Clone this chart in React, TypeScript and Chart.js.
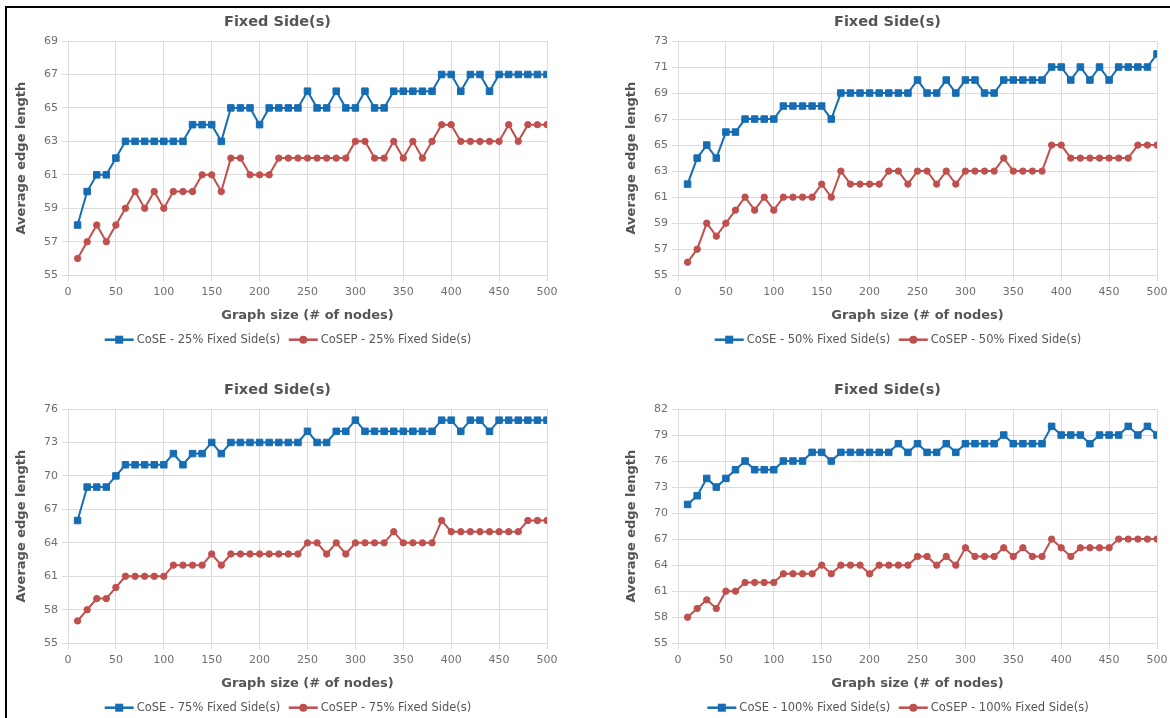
import React, { useEffect, useRef } from "react";
import { Chart, registerables } from "chart.js";

Chart.register(...registerables);

// Graph sizes on the x axis
const nodeCounts = [
  10, 20, 30, 40, 50, 60, 70, 80, 90, 100,
  110, 120, 130, 140, 150, 160, 170, 180, 190, 200,
  210, 220, 230, 240, 250, 260, 270, 280, 290, 300,
  310, 320, 330, 340, 350, 360, 370, 380, 390, 400,
  410, 420, 430, 440, 450, 460, 470, 480, 490, 500,
];

// 25% fixed sides
const cose25 = [
  58, 60, 61, 61, 62, 63, 63, 63, 63, 63,
  63, 63, 64, 64, 64, 63, 65, 65, 65, 64,
  65, 65, 65, 65, 66, 65, 65, 66, 65, 65,
  66, 65, 65, 66, 66, 66, 66, 66, 67, 67,
  66, 67, 67, 66, 67, 67, 67, 67, 67, 67,
];
const cosep25 = [
  56, 57, 58, 57, 58, 59, 60, 59, 60, 59,
  60, 60, 60, 61, 61, 60, 62, 62, 61, 61,
  61, 62, 62, 62, 62, 62, 62, 62, 62, 63,
  63, 62, 62, 63, 62, 63, 62, 63, 64, 64,
  63, 63, 63, 63, 63, 64, 63, 64, 64, 64,
];

// 50% fixed sides
const cose50 = [
  62, 64, 65, 64, 66, 66, 67, 67, 67, 67,
  68, 68, 68, 68, 68, 67, 69, 69, 69, 69,
  69, 69, 69, 69, 70, 69, 69, 70, 69, 70,
  70, 69, 69, 70, 70, 70, 70, 70, 71, 71,
  70, 71, 70, 71, 70, 71, 71, 71, 71, 72,
];
const cosep50 = [
  56, 57, 59, 58, 59, 60, 61, 60, 61, 60,
  61, 61, 61, 61, 62, 61, 63, 62, 62, 62,
  62, 63, 63, 62, 63, 63, 62, 63, 62, 63,
  63, 63, 63, 64, 63, 63, 63, 63, 65, 65,
  64, 64, 64, 64, 64, 64, 64, 65, 65, 65,
];

// 75% fixed sides
const cose75 = [
  66, 69, 69, 69, 70, 71, 71, 71, 71, 71,
  72, 71, 72, 72, 73, 72, 73, 73, 73, 73,
  73, 73, 73, 73, 74, 73, 73, 74, 74, 75,
  74, 74, 74, 74, 74, 74, 74, 74, 75, 75,
  74, 75, 75, 74, 75, 75, 75, 75, 75, 75,
];
const cosep75 = [
  57, 58, 59, 59, 60, 61, 61, 61, 61, 61,
  62, 62, 62, 62, 63, 62, 63, 63, 63, 63,
  63, 63, 63, 63, 64, 64, 63, 64, 63, 64,
  64, 64, 64, 65, 64, 64, 64, 64, 66, 65,
  65, 65, 65, 65, 65, 65, 65, 66, 66, 66,
];

// 100% fixed sides
const cose100 = [
  71, 72, 74, 73, 74, 75, 76, 75, 75, 75,
  76, 76, 76, 77, 77, 76, 77, 77, 77, 77,
  77, 77, 78, 77, 78, 77, 77, 78, 77, 78,
  78, 78, 78, 79, 78, 78, 78, 78, 80, 79,
  79, 79, 78, 79, 79, 79, 80, 79, 80, 79,
];
const cosep100 = [
  58, 59, 60, 59, 61, 61, 62, 62, 62, 62,
  63, 63, 63, 63, 64, 63, 64, 64, 64, 63,
  64, 64, 64, 64, 65, 65, 64, 65, 64, 66,
  65, 65, 65, 66, 65, 66, 65, 65, 67, 66,
  65, 66, 66, 66, 66, 67, 67, 67, 67, 67,
];

// y-axis ranges per panel: [min, max, step]
const yRange25 = [55, 69, 2];
const yRange50 = [55, 73, 2];
const yRange75 = [55, 76, 3];
const yRange100 = [55, 82, 3];

const titleText = "Fixed Side(s)";
const xTitleText = "Graph size (# of nodes)";
const yTitleText = "Average edge length";

const FONT = "'DejaVu Sans', sans-serif";
const BLUE = "#166db3";
const RED = "#c0504d";
const GRID = "#dcdcdc";

const CANVAS_W = 560;
const CANVAS_H = 345;

type Panel = {
  left: number;
  top: number;
  pct: string;
  cose: number[];
  cosep: number[];
  yRange: number[];
};

const panels: Panel[] = [
  { left: 8, top: 8, pct: "25%", cose: cose25, cosep: cosep25, yRange: yRange25 },
  { left: 618, top: 8, pct: "50%", cose: cose50, cosep: cosep50, yRange: yRange50 },
  { left: 8, top: 376, pct: "75%", cose: cose75, cosep: cosep75, yRange: yRange75 },
  { left: 618, top: 376, pct: "100%", cose: cose100, cosep: cosep100, yRange: yRange100 },
];

// Legend drawn below the axis title: a short line with the series marker, then the label
const lineLegend = {
  id: "lineLegend",
  afterDraw(chart: any) {
    const ctx = chart.ctx as CanvasRenderingContext2D;
    const items = chart.data.datasets.map((ds: any) => ({
      label: ds.label as string,
      color: ds.borderColor as string,
      style: ds.pointStyle as string,
    }));
    ctx.save();
    ctx.font = `11.5px ${FONT}`;
    const sym = 29;
    const gapText = 3;
    const gapItem = 8.5;
    const widths = items.map((it: any) => ctx.measureText(it.label).width);
    const total =
      widths.reduce((a: number, w: number) => a + sym + gapText + w, 0) +
      gapItem * (items.length - 1);
    let x = chart.width / 2 - total / 2;
    const y = chart.chartArea.bottom + 64.5;
    items.forEach((it: any, i: number) => {
      ctx.strokeStyle = it.color;
      ctx.lineWidth = 2.5;
      ctx.beginPath();
      ctx.moveTo(x, y);
      ctx.lineTo(x + sym, y);
      ctx.stroke();
      ctx.fillStyle = it.color;
      const cx = x + sym / 2;
      if (it.style === "rect") {
        ctx.fillRect(cx - 4, y - 4, 8, 8);
      } else {
        ctx.beginPath();
        ctx.arc(cx, y, 4, 0, Math.PI * 2);
        ctx.fill();
      }
      ctx.fillStyle = "#555555";
      ctx.textAlign = "left";
      ctx.textBaseline = "middle";
      ctx.fillText(it.label, x + sym + gapText, y);
      x += sym + gapText + widths[i] + gapItem;
    });
    ctx.restore();
  },
};

function EdgeLengthChart({ panel }: { panel: Panel }) {
  const ref = useRef<HTMLCanvasElement>(null);

  useEffect(() => {
    if (!ref.current) return;
    const [yMin, yMax, yStep] = panel.yRange;
    const toPoints = (vals: number[]) => nodeCounts.map((x, i) => ({ x, y: vals[i] }));

    const chart = new Chart(ref.current, {
      type: "line",
      data: {
        datasets: [
          {
            label: `CoSE - ${panel.pct} Fixed Side(s)`,
            data: toPoints(panel.cose),
            borderColor: BLUE,
            backgroundColor: BLUE,
            borderWidth: 2,
            pointStyle: "rect",
            pointRadius: 4.6,
            pointBorderWidth: 1,
            pointBackgroundColor: BLUE,
            pointBorderColor: BLUE,
            tension: 0,
          },
          {
            label: `CoSEP - ${panel.pct} Fixed Side(s)`,
            data: toPoints(panel.cosep),
            borderColor: RED,
            backgroundColor: RED,
            borderWidth: 2,
            pointStyle: "circle",
            pointRadius: 3.2,
            pointBorderWidth: 1,
            pointBackgroundColor: RED,
            pointBorderColor: RED,
            tension: 0,
          },
        ],
      },
      options: {
        responsive: false,
        animation: false,
        layout: { padding: { left: 0, right: 21, top: 0, bottom: 30 } },
        plugins: {
          legend: { display: false },
          tooltip: { enabled: false },
          title: {
            display: true,
            text: titleText,
            color: "#555555",
            font: { family: FONT, size: 14.5, weight: "bold" },
            padding: { top: 5.8, bottom: 9.8 },
          },
        },
        scales: {
          x: {
            type: "linear",
            min: 0,
            max: 500,
            afterFit: (scale: any) => {
              scale.height = 47.8;
            },
            ticks: {
              stepSize: 50,
              color: "#6e6e6e",
              padding: 4,
              maxRotation: 0,
              font: { family: FONT, size: 11 },
            },
            grid: { color: GRID, lineWidth: 1, tickLength: 6 },
            border: { color: GRID },
            title: {
              display: true,
              text: xTitleText,
              color: "#555555",
              font: { family: FONT, size: 13, weight: "bold" },
              padding: { top: 0, bottom: 0 },
            },
          },
          y: {
            type: "linear",
            min: yMin,
            max: yMax,
            afterFit: (scale: any) => {
              scale.width = 60;
            },
            ticks: {
              stepSize: yStep,
              color: "#6e6e6e",
              padding: 4,
              font: { family: FONT, size: 11 },
            },
            grid: { color: GRID, lineWidth: 1, tickLength: 6 },
            border: { color: GRID },
            title: {
              display: true,
              text: yTitleText,
              color: "#555555",
              font: { family: FONT, size: 13, weight: "bold" },
              padding: { top: 5.7, bottom: 0 },
            },
          },
        },
      },
      plugins: [lineLegend],
    } as any);

    return () => chart.destroy();
  }, [panel]);

  return (
    <canvas
      ref={ref}
      width={CANVAS_W}
      height={CANVAS_H}
      style={{
        position: "absolute",
        left: panel.left,
        top: panel.top,
        width: CANVAS_W,
        height: CANVAS_H,
      }}
    />
  );
}

export default function App() {
  return (
    <div
      style={{
        position: "fixed",
        left: 0,
        top: 0,
        width: 1170,
        height: 718,
        overflow: "hidden",
        background: "#ffffff",
      }}
    >
      {panels.map((p) => (
        <EdgeLengthChart key={p.pct} panel={p} />
      ))}
      {/* frame lines along the top and left edges */}
      <div style={{ position: "absolute", left: 5, top: 6, width: 1165, height: 2, background: "#000" }} />
      <div style={{ position: "absolute", left: 5, top: 6, width: 2, height: 712, background: "#000" }} />
    </div>
  );
}
